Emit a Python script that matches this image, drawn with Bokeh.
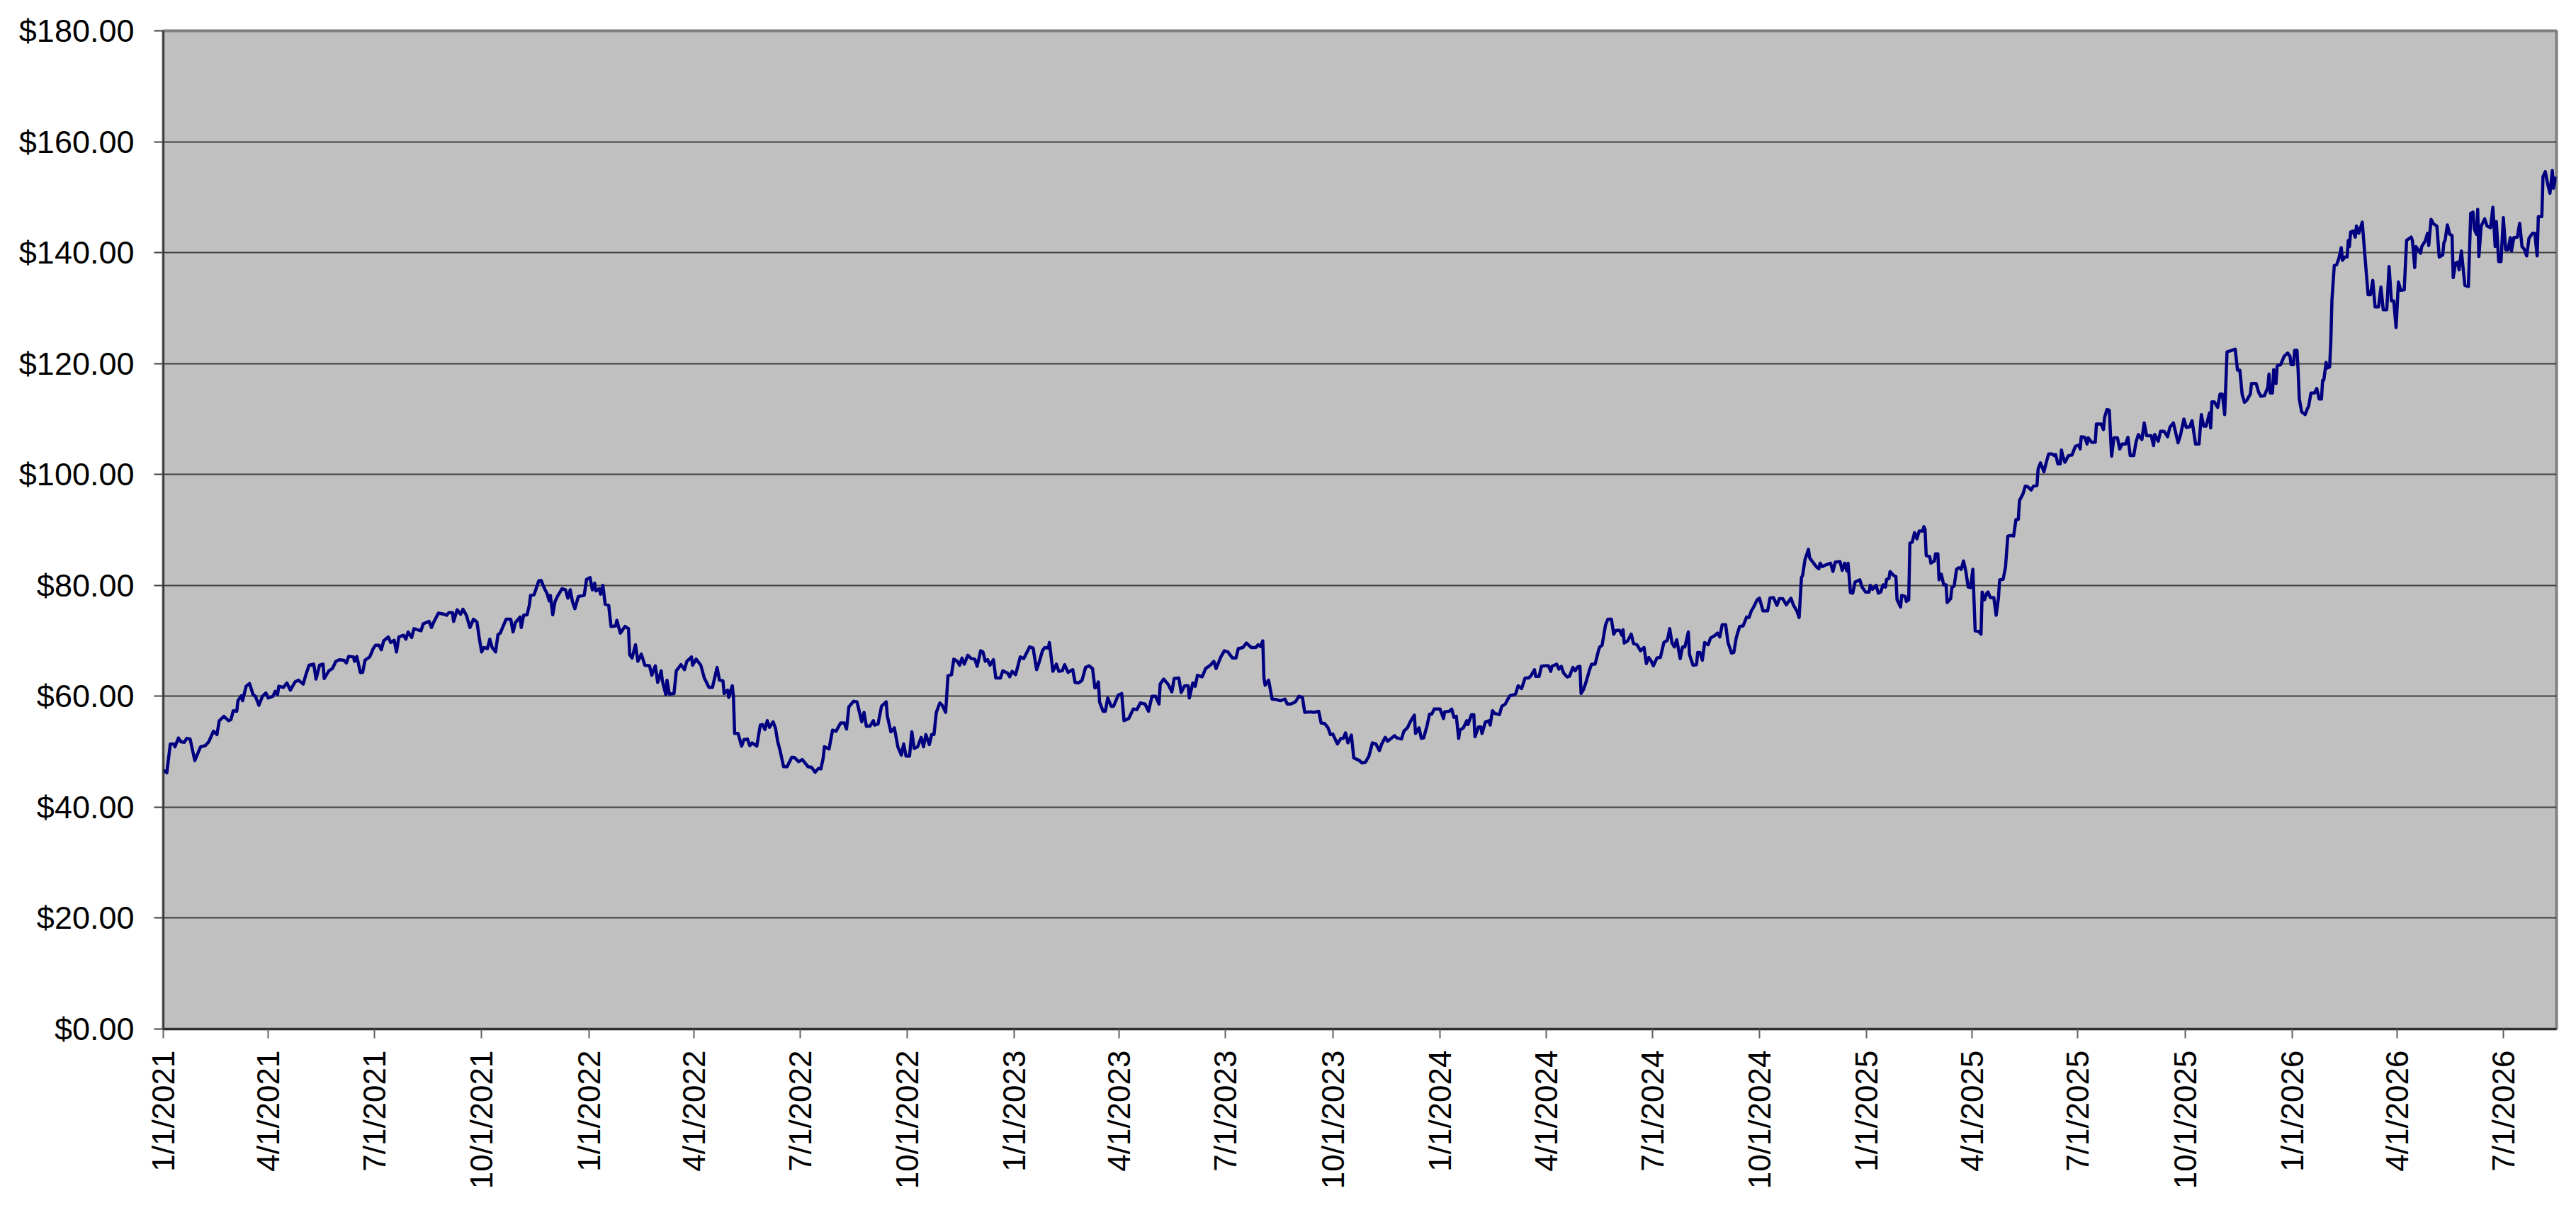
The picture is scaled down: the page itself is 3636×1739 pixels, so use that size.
import math
import pandas as pd
from bokeh.plotting import figure
from bokeh.models import (Range1d, FixedTicker, NumeralTickFormatter,
                          CustomJSTickFormatter, ColumnDataSource)
from bokeh.embed import file_html
from bokeh.resources import INLINE

# ---------------- data ----------------
start_date = "2021-01-01"
# observation dates, as days after start_date
day_offset = [
    0, 3, 6, 9, 10, 13, 15, 18, 20, 23, 27, 30, 32, 36, 39, 43, 46, 48, 52, 56, 58, 60, 63, 64, 67, 68,
    71, 74, 77, 79, 82, 85, 88, 90, 94, 96, 98, 99, 103, 106, 109, 113, 116, 120, 122, 125, 129, 131,
    134, 137, 138, 142, 145, 148, 151, 155, 157, 159, 163, 164, 166, 169, 171, 173, 177, 180, 182, 185,
    187, 189, 193, 195, 198, 200, 202, 206, 208, 210, 213, 215, 218, 221, 223, 228, 230, 232, 236, 241,
    243, 245, 248, 249, 252, 255, 257, 260, 263, 266, 269, 271, 273, 275, 278, 280, 282, 285, 287, 289,
    294, 298, 300, 302, 306, 307, 309, 312, 314, 315, 318, 322, 324, 327, 329, 331, 332, 334, 336, 338,
    342, 345, 347, 349, 351, 353, 356, 359,
    361, 363, 366, 368, 370, 371, 374, 375, 377, 379, 382, 384, 388, 389, 392, 396, 399, 400, 402, 405,
    407, 410, 413, 417, 419, 422, 424, 427, 428, 431, 432, 434, 438, 440, 444, 447, 449, 453, 454, 457,
    461, 464, 468, 471, 475, 477, 480, 481, 484, 485, 488, 489, 490, 493, 496, 498, 501, 503, 505, 509,
    512, 514, 516, 518, 520, 523, 525, 527, 529, 532, 535, 539, 541, 545, 548, 553, 556, 559, 562, 564,
    566, 567, 571, 574, 577, 581, 584, 586, 588, 592, 595, 597, 599, 601, 603, 606, 609, 610, 613, 616,
    620, 621, 624, 627, 630, 633, 635, 637, 640, 642, 644, 647, 650, 652, 654, 657, 659, 661, 663, 666,
    668, 671, 673, 676, 678, 681, 683, 685, 687, 690, 693, 696, 698, 701, 703, 705, 707, 709, 712, 714,
    718, 720, 724,
    726, 728, 731, 735, 738, 743, 746, 749, 751, 754, 756, 759, 760, 763, 766, 768, 771, 773, 776, 780,
    782, 785, 788, 791, 794, 797, 799, 800, 802, 803, 806, 808, 810, 813, 815, 819, 822, 824, 828, 832,
    835, 838, 842, 845, 848, 851, 854, 855, 858, 862, 865, 867, 871, 873, 876, 879, 880, 883, 885, 887,
    891, 894, 898, 901, 903, 907, 910, 913, 917, 920, 922, 926, 929, 933, 937, 939, 941, 943, 944, 945,
    948, 951, 955, 958, 962, 964, 967, 971, 974, 977, 979, 984, 987, 991, 993, 996, 999, 1001, 1003,
    1007, 1010, 1012, 1014, 1016, 1019, 1021, 1026, 1028, 1031, 1034, 1037, 1040, 1043, 1045, 1048,
    1050, 1056, 1058, 1062, 1064, 1067, 1070, 1073, 1074, 1077, 1079, 1081, 1084, 1086, 1088,
    1090, 1095, 1098, 1099, 1103, 1105, 1107, 1109, 1111, 1112, 1115, 1118, 1119, 1122, 1124, 1125,
    1128, 1130, 1131, 1134, 1137, 1138, 1140, 1142, 1146, 1148, 1151, 1153, 1155, 1159, 1160, 1162,
    1165, 1168, 1171, 1173, 1176, 1177, 1180, 1182, 1185, 1188, 1190, 1191, 1195, 1197, 1199, 1201,
    1204, 1206, 1209, 1211, 1213, 1215, 1216, 1218, 1220, 1223, 1225, 1228, 1231, 1232, 1234, 1237,
    1239, 1242, 1244, 1246, 1249, 1251, 1252, 1253, 1256, 1259, 1261, 1264, 1267, 1270, 1272, 1274,
    1276, 1278, 1281, 1284, 1287, 1290, 1292, 1294, 1296, 1298, 1301, 1303, 1305, 1308, 1309, 1312,
    1315, 1316, 1318, 1320, 1322, 1325, 1327, 1331, 1333, 1335, 1337, 1340, 1342, 1345, 1347, 1349,
    1352, 1355, 1358, 1360, 1362, 1364, 1367, 1369, 1372, 1376, 1378, 1381, 1384, 1386, 1389, 1392,
    1396, 1398, 1401, 1403, 1405, 1406, 1408, 1411, 1412, 1414, 1418, 1420, 1421, 1423, 1426, 1430,
    1432, 1434, 1438, 1440, 1442, 1444, 1445, 1447, 1449, 1451,
    1455, 1457, 1460, 1463, 1464, 1466, 1469, 1471, 1473, 1475, 1477, 1478, 1480, 1481, 1484, 1486,
    1487, 1490, 1491, 1494, 1495, 1497, 1498, 1500, 1502, 1504, 1506, 1509, 1510, 1511, 1512, 1515,
    1516, 1519, 1520, 1522, 1523, 1525, 1527, 1529, 1530, 1533, 1534, 1536, 1538, 1540, 1542, 1544,
    1546, 1548, 1550, 1552, 1554, 1557, 1559, 1560, 1562, 1564, 1565, 1567, 1570, 1572, 1574, 1575,
    1578, 1580, 1582, 1585, 1587, 1589, 1591, 1592, 1595, 1597, 1599, 1602, 1604, 1607, 1608, 1610,
    1613, 1615, 1617, 1620, 1622, 1623, 1625, 1627, 1628, 1629, 1631, 1634, 1637, 1640, 1643, 1644,
    1645, 1648, 1650, 1651, 1654, 1657, 1658, 1662, 1664, 1665, 1667, 1669, 1671, 1673, 1676, 1678,
    1680, 1683, 1685, 1687, 1690, 1692, 1694, 1697, 1699, 1701, 1705, 1707, 1708, 1711, 1713, 1716,
    1719, 1721, 1724, 1728, 1730, 1733, 1735, 1738, 1740, 1743, 1746, 1748, 1750, 1752, 1755, 1756,
    1757, 1759, 1762, 1764, 1766, 1768, 1770, 1773, 1777, 1779, 1781, 1783, 1785, 1787, 1790, 1791,
    1795, 1797, 1799, 1802, 1805, 1806, 1807, 1809, 1810, 1812, 1813, 1816,
    1819, 1822, 1824, 1825, 1827, 1828, 1830, 1831, 1832, 1834, 1837, 1839, 1840, 1842, 1845, 1847,
    1849, 1851, 1852, 1853, 1855, 1856, 1858, 1859, 1860, 1862, 1864, 1866, 1868, 1869, 1871, 1873,
    1874, 1875, 1876, 1878, 1880, 1881, 1883, 1885, 1886, 1888, 1891, 1893, 1895, 1897, 1900, 1902,
    1904, 1907, 1909, 1911, 1913, 1915, 1917, 1919, 1922, 1924, 1928, 1929, 1931, 1932, 1936, 1937,
    1940, 1942, 1943, 1945, 1947, 1950, 1952, 1955, 1956, 1957, 1959, 1961, 1963, 1964, 1966, 1968,
    1969, 1971, 1974, 1977, 1979, 1981, 1982, 1984, 1985, 1986, 1988, 1991, 1993, 1996, 1998, 2000,
    2001, 2003, 2005, 2007, 2009, 2011, 2013, 2014, 2016, 2019, 2021, 2023, 2025, 2027, 2029, 2032,
    2034, 2036, 2037, 2040, 2041, 2043, 2045, 2047, 2049, 2050, 2052,
]
price = [
    46.7, 46.2, 51.4, 51.4, 50.9, 52.5, 51.8, 51.7, 52.4, 52.3, 48.4, 49.9, 50.9, 51.1, 51.8, 53.7, 53.1,
    55.6, 56.4, 55.6, 55.8, 57.4, 57.3, 59.2, 60.1, 59.2, 61.8, 62.3, 60.3, 60.0, 58.4, 60.0, 60.6, 59.7,
    60.0, 60.9, 60.3, 61.8, 61.6, 62.4, 61.1, 62.6, 62.9, 62.2, 63.7, 65.6, 65.8, 63.1, 65.6, 65.8, 63.2,
    64.6, 65.0, 66.3, 66.6, 66.5, 66.0, 67.2, 67.1, 66.3, 67.2, 64.3, 64.3, 66.5, 67.1, 68.6, 69.2, 69.2,
    68.4, 70.0, 70.7, 69.7, 70.1, 68.0, 70.7, 71.0, 70.3, 71.6, 70.6, 72.2, 72.0, 71.8, 73.1, 73.5, 72.4,
    73.4, 75.0, 74.8, 74.6, 75.1, 75.1, 73.5, 75.6, 74.8, 75.7, 74.6, 72.4, 73.9, 73.4, 70.5, 68.0, 68.8,
    68.6, 70.3, 68.8, 68.0, 71.1, 71.4, 73.9, 73.9, 71.6, 73.3, 74.3, 72.4, 74.6, 74.7, 76.5, 78.2, 78.3,
    80.8, 80.9, 79.4, 78.6, 77.2, 78.2, 74.7, 77.1, 78.0, 79.4, 79.2, 77.7, 79.2, 77.0, 75.8, 78.0, 78.1,
    78.2, 81.1, 81.4, 79.2, 80.4, 79.0, 79.4, 78.4, 80.0, 76.6, 76.4, 72.6, 72.7, 73.7, 71.4, 72.6, 72.2,
    67.5, 66.9, 69.3, 66.3, 67.6, 65.6, 65.5, 63.8, 65.5, 62.5, 64.6, 62.8, 60.3, 62.9, 60.4, 60.5, 64.6,
    65.7, 64.8, 66.3, 67.1, 65.6, 66.7, 65.6, 63.3, 61.6, 61.6, 65.2, 62.9, 62.8, 60.5, 61.1, 59.8, 61.9,
    59.9, 53.3, 53.3, 51.0, 52.2, 52.3, 51.1, 51.6, 51.0, 54.8, 54.9, 54.0, 55.6, 54.4, 55.4, 54.3, 51.8,
    50.2, 47.3, 47.3, 49.0, 49.0, 48.2, 48.6, 47.3, 47.2, 46.3, 47.0, 46.9, 48.9, 50.9, 50.5, 53.9, 53.7,
    55.2, 55.2, 54.1, 58.1, 59.1, 59.0, 57.2, 55.4, 57.1, 54.6, 54.6, 55.6, 54.8, 55.0, 58.2, 59.0, 56.4,
    53.6, 54.3, 50.9, 49.4, 51.4, 49.2, 49.2, 53.6, 50.6, 50.9, 52.6, 50.9, 53.1, 51.3, 53.1, 53.1, 57.1,
    58.8, 58.4, 57.1, 63.7, 63.9, 66.7, 66.3, 65.6, 66.9, 65.8, 67.4, 66.8, 66.7, 65.4, 68.2, 68.0, 66.3,
    66.6, 65.6, 66.6, 63.3, 63.3, 64.6, 64.2,
    63.5, 64.5, 63.9, 67.1, 66.8, 68.9, 68.7, 64.8, 66.0, 68.2, 68.8, 68.7, 69.7, 64.5, 65.8, 64.5, 64.6,
    65.7, 64.3, 64.8, 62.5, 62.4, 62.9, 65.2, 65.5, 65.0, 61.5, 61.6, 62.6, 59.0, 57.3, 57.3, 59.7, 58.2,
    58.2, 60.2, 60.5, 55.6, 56.0, 57.7, 57.6, 58.8, 58.6, 57.3, 60.0, 60.0, 58.6, 62.2, 63.1, 62.1, 60.8,
    63.2, 63.3, 60.7, 61.9, 61.9, 59.7, 62.4, 61.8, 63.8, 63.5, 65.0, 65.6, 66.3, 65.0, 67.1, 68.2, 68.0,
    66.9, 66.9, 68.6, 68.8, 69.6, 68.8, 68.8, 69.3, 69.0, 70.0, 63.3, 62.0, 62.9, 59.5, 59.4, 59.2, 59.5,
    58.6, 58.6, 59.0, 60.0, 59.8, 57.1, 57.2, 57.1, 57.3, 55.2, 55.1, 54.3, 53.1, 53.2, 51.4, 52.4, 52.4,
    53.4, 51.6, 53.0, 48.9, 48.4, 48.0, 48.1, 49.2, 51.6, 51.4, 50.2, 51.4, 52.6, 51.9, 52.9, 52.5, 52.3,
    53.7, 54.3, 55.6, 56.6, 53.3, 54.3, 52.4, 52.5, 54.8, 56.8, 56.8,
    57.7, 57.7, 56.0, 57.2, 57.3, 57.7, 56.2, 56.4, 52.4, 53.9, 54.3, 55.6, 54.9, 56.7, 56.7, 52.7, 54.5,
    54.5, 53.3, 55.4, 55.6, 54.8, 57.4, 56.9, 56.7, 58.2, 58.6, 59.4, 60.1, 60.3, 60.5, 61.9, 61.4, 63.3,
    63.3, 63.7, 64.8, 63.6, 63.6, 65.4, 65.5, 65.5, 64.5, 65.4, 65.8, 64.9, 65.4, 64.2, 63.5, 63.6, 65.2,
    64.6, 65.3, 65.4, 60.5, 61.2, 62.4, 64.6, 65.8, 65.8, 68.3, 68.9, 69.2, 72.9, 73.9, 73.9, 71.2, 71.9,
    71.9, 71.0, 72.0, 69.6, 70.0, 71.2, 69.5, 69.3, 68.2, 68.8, 65.9, 67.0, 66.4, 65.5, 66.9, 67.0, 69.7,
    70.1, 72.2, 69.6, 68.9, 70.2, 66.8, 68.9, 68.9, 71.6, 67.5, 65.6, 65.7, 67.9, 67.9, 66.5, 69.7, 69.3,
    70.5, 71.0, 71.4, 70.7, 72.9, 72.9, 69.7, 67.8, 67.9, 70.5, 72.6, 72.7, 74.3, 74.2, 75.4, 76.1, 77.4,
    77.7, 75.4, 75.4, 77.7, 77.8, 76.4, 77.6, 77.6, 76.5, 77.7, 76.5, 75.4, 74.2, 81.4, 81.8, 84.6, 86.5,
    85.0, 84.4, 83.3, 83.0, 84.0, 83.4, 83.7, 84.0, 82.5, 84.2, 84.3, 82.7, 84.0, 82.6, 84.0, 78.7, 78.6,
    80.6,
    81.0, 79.7, 78.8, 78.8, 80.0, 79.3, 80.0, 78.6, 78.8, 80.1, 79.7, 81.1, 81.2, 82.5, 81.8, 81.6, 77.4,
    76.1, 78.2, 78.0, 77.1, 77.4, 87.6, 87.8, 89.5, 88.4, 89.8, 89.8, 90.6, 90.1, 85.4, 85.2, 84.0, 84.4,
    85.7, 85.7, 81.0, 82.0, 80.1, 80.1, 76.9, 77.6, 79.6, 79.9, 82.9, 83.2, 82.9, 84.4, 82.5, 79.7, 79.6,
    82.9, 71.8, 71.7, 71.2, 78.8, 77.4, 78.6, 78.8, 77.8, 77.8, 74.6, 77.8, 81.0, 81.1, 83.3, 88.9, 89.0,
    88.9, 91.9, 91.9, 95.3, 96.5, 97.9, 97.8, 97.2, 97.9, 98.0, 101.0, 102.1, 100.5, 102.2, 103.7, 103.7,
    103.4, 103.6, 101.9, 101.9, 104.4, 103.4, 102.2, 103.4, 103.5, 105.1, 105.3, 104.6, 106.8, 106.7,
    105.5, 106.6, 105.8, 105.8, 109.1, 109.1, 108.1, 110.3, 111.7, 111.6, 103.3, 106.6, 106.6, 104.6,
    105.5, 105.5, 106.7, 103.4, 103.4, 105.9, 107.2, 106.3, 109.3, 107.0, 107.0, 105.2, 107.2, 106.0,
    107.8, 107.8, 106.8, 108.5, 109.3, 105.7, 107.0, 110.0, 108.5, 108.6, 109.7, 105.5, 105.5, 110.8,
    108.7, 108.7, 111.1, 108.4, 113.1, 113.1, 112.1, 114.5, 114.5, 110.8, 122.1, 122.3, 122.6, 118.8,
    118.8, 114.4, 113.0, 113.4, 114.5, 116.4, 116.4, 114.9, 114.1, 114.2, 115.7, 118.1, 114.7, 114.7,
    118.9, 116.4, 119.6, 119.8,
    121.3, 121.9, 121.3, 119.8, 119.8, 122.4, 122.4, 118.7, 113.6, 111.3, 110.8, 111.9, 112.3, 114.7,
    114.7, 115.5, 113.6, 113.6, 117.0, 117.0, 120.2, 119.2, 119.4, 123.8, 131.5, 137.7, 137.8, 139.0,
    140.9, 138.6, 139.2, 139.2, 142.2, 141.1, 143.7, 143.9, 142.8, 144.8, 143.5, 144.8, 145.5, 140.1,
    132.4, 132.4, 135.0, 130.2, 130.2, 133.8, 129.7, 129.7, 137.5, 131.3, 131.3, 126.5, 134.7, 133.2,
    133.3, 142.2, 142.8, 142.2, 137.3, 141.1, 139.9, 141.1, 142.1, 143.5, 141.3, 146.0, 145.2, 144.8,
    139.2, 139.6, 141.8, 142.2, 145.0, 143.3, 143.1, 135.5, 138.1, 138.3, 136.9, 140.3, 134.1, 133.9,
    147.1, 147.3, 144.3, 143.3, 147.8, 139.3, 144.8, 146.1, 144.8, 144.5, 148.2, 141.1, 145.6, 138.4,
    138.4, 146.3, 140.5, 140.5, 142.7, 140.3, 142.7, 142.8, 145.3, 141.1, 140.6, 139.4, 142.6, 143.5,
    143.5, 139.4, 146.5, 146.5, 153.7, 154.6, 152.4, 150.7, 154.8, 151.6, 153.7,
]
tick_dates = [
    "2021-01-01", "2021-04-01", "2021-07-01", "2021-10-01",
    "2022-01-01", "2022-04-01", "2022-07-01", "2022-10-01",
    "2023-01-01", "2023-04-01", "2023-07-01", "2023-10-01",
    "2024-01-01", "2024-04-01", "2024-07-01", "2024-10-01",
    "2025-01-01", "2025-04-01", "2025-07-01", "2025-10-01",
    "2026-01-01", "2026-04-01", "2026-07-01",
]
y_ticks = [0, 20, 40, 60, 80, 100, 120, 140, 160, 180]

# ---------------- figure ----------------
assert len(day_offset) == len(price)
dates = pd.to_datetime(start_date) + pd.to_timedelta(day_offset, unit="D")
src = ColumnDataSource(dict(date=dates, price=price))

def ms(ts):
    return pd.Timestamp(ts).value / 1e6

x_start = ms(dates[0])
x_end = ms(dates[-1]) + 0.6 * 86400000

p = figure(width=3620, height=1723, x_axis_type="datetime",
           output_backend="svg", toolbar_location=None,
           x_range=Range1d(x_start, x_end), y_range=Range1d(0, 180),
           min_border_left=230, min_border_right=12,
           min_border_top=43, min_border_bottom=271,
           background_fill_color="#C0C0C0", border_fill_color="white")

p.outline_line_color = "#808080"
p.outline_line_width = 4

p.xgrid.visible = False
p.ygrid.ticker = FixedTicker(ticks=y_ticks)
p.ygrid.grid_line_color = "#404040"
p.ygrid.grid_line_width = 1.8

p.line("date", "price", source=src, line_color="#000080", line_width=4.5,
       line_join="round")

FONT = "Liberation Sans"

ya = p.yaxis[0]
ya.ticker = FixedTicker(ticks=y_ticks)
ya.formatter = NumeralTickFormatter(format="$0.00")
ya.major_label_text_font = FONT
ya.major_label_text_font_size = "45px"
ya.major_label_text_color = "black"
ya.major_tick_out = 13
ya.major_tick_in = 0
ya.minor_tick_out = 0
ya.minor_tick_in = 0
ya.major_tick_line_color = "#404040"
ya.major_tick_line_width = 2
ya.axis_line_color = "#303030"
ya.axis_line_width = 2
ya.major_label_standoff = 28

xa = p.xaxis[0]
xa.ticker = FixedTicker(ticks=[ms(d) for d in tick_dates])
xa.formatter = CustomJSTickFormatter(code="""
    const d = new Date(tick);
    return (d.getUTCMonth() + 1) + "/" + d.getUTCDate() + "/" + d.getUTCFullYear();
""")
xa.major_label_orientation = math.pi / 2
xa.major_label_text_font = FONT
xa.major_label_text_font_size = "44px"
xa.major_label_text_color = "black"
xa.major_tick_out = 13
xa.major_tick_in = 0
xa.minor_tick_out = 0
xa.minor_tick_in = 0
xa.major_tick_line_color = "#606060"
xa.major_tick_line_width = 2
xa.axis_line_color = "black"
xa.axis_line_width = 2
xa.major_label_standoff = 17

open("out.html", "w").write(file_html(p, INLINE))
